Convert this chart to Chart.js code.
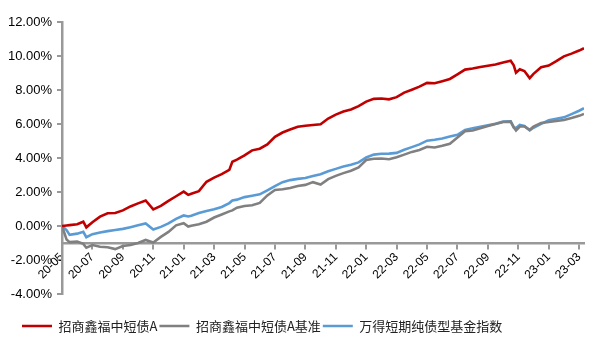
<!DOCTYPE html>
<html>
<head>
<meta charset="utf-8">
<script src="https://cdn.jsdelivr.net/npm/chart.js@4/dist/chart.umd.min.js"></script>
<style>
    html, body { margin: 0; padding: 0; background: #fff; }
    #wrap { width: 602px; height: 351px; }
</style>
</head>
<body>
<div id="wrap"><canvas id="navChart"></canvas></div>
<script>
// months since 2020-05 (x position of each observation)
const months = [
    0, 0.3, 0.5, 1.0, 1.4, 1.6, 2.0, 2.5, 3.0, 3.5,
    4.0, 4.5, 5.0, 5.5, 6.0, 6.5, 7.0, 7.5, 8.0, 8.3,
    8.5, 9.0, 9.5, 10.0, 10.5, 11.0, 11.2, 11.5, 12.0, 12.5,
    13.0, 13.5, 14.0, 14.5, 15.0, 15.5, 16.0, 16.5, 17.0, 17.5,
    18.0, 18.5, 19.0, 19.5, 20.0, 20.5, 21.0, 21.5, 22.0, 22.5,
    23.0, 23.5, 24.0, 24.5, 25.0, 25.5, 26.0, 26.5, 27.0, 27.5,
    28.0, 28.5, 29.0, 29.5, 29.7, 29.85, 30.1, 30.4, 30.75, 31.0,
    31.5, 32.0, 32.5, 33.0, 33.5, 34.0, 34.32
];

// cumulative return, %
const fundA = [
    0.00, 0.03, 0.05, 0.10, 0.25, -0.08, 0.22, 0.55, 0.75, 0.76,
    0.92, 1.15, 1.33, 1.50, 0.98, 1.18, 1.48, 1.75, 2.02, 1.83,
    1.90, 2.05, 2.60, 2.85, 3.05, 3.30, 3.78, 3.90, 4.15, 4.45,
    4.55, 4.80, 5.25, 5.50, 5.68, 5.84, 5.90, 5.94, 5.98, 6.32,
    6.55, 6.73, 6.85, 7.05, 7.32, 7.48, 7.50, 7.45, 7.58, 7.85,
    8.02, 8.20, 8.42, 8.40, 8.52, 8.65, 8.92, 9.20, 9.26, 9.35,
    9.43, 9.50, 9.62, 9.72, 9.45, 9.02, 9.22, 9.12, 8.70, 8.95,
    9.34, 9.44, 9.70, 9.98, 10.14, 10.32, 10.46
];

const benchmark = [
    0.00, -0.80, -0.95, -0.92, -1.05, -1.28, -1.12, -1.22, -1.25, -1.36,
    -1.18, -1.12, -1.00, -0.82, -0.97, -0.64, -0.35, 0.04, 0.16, -0.03,
    0.02, 0.10, 0.25, 0.50, 0.68, 0.86, 0.92, 1.08, 1.18, 1.22,
    1.36, 1.80, 2.12, 2.16, 2.24, 2.35, 2.42, 2.58, 2.44, 2.76,
    2.95, 3.11, 3.25, 3.45, 3.88, 3.96, 3.97, 3.93, 4.04, 4.20,
    4.36, 4.47, 4.66, 4.62, 4.72, 4.84, 5.20, 5.57, 5.62, 5.75,
    5.88, 6.00, 6.12, 6.14, 5.80, 5.62, 5.85, 5.86, 5.66, 5.85,
    6.06, 6.12, 6.18, 6.24, 6.35, 6.48, 6.59
];

const windIndex = [
    0.00, -0.24, -0.52, -0.45, -0.34, -0.66, -0.48, -0.38, -0.30, -0.24,
    -0.17, -0.07, 0.04, 0.15, -0.21, -0.05, 0.15, 0.42, 0.62, 0.56,
    0.60, 0.76, 0.88, 0.98, 1.12, 1.35, 1.50, 1.55, 1.70, 1.78,
    1.86, 2.10, 2.35, 2.58, 2.70, 2.77, 2.82, 2.94, 3.05, 3.22,
    3.36, 3.50, 3.60, 3.74, 4.03, 4.20, 4.25, 4.26, 4.30, 4.48,
    4.64, 4.80, 5.02, 5.07, 5.15, 5.26, 5.36, 5.65, 5.75, 5.83,
    5.92, 6.02, 6.14, 6.16, 5.80, 5.76, 5.94, 5.88, 5.62, 5.78,
    6.01, 6.22, 6.30, 6.39, 6.58, 6.78, 6.93
];

const seriesNames = ['招商鑫福中短债A', '招商鑫福中短债A基准', '万得短期纯债型基金指数'];
const seriesColors = ['#C00000', '#808080', '#5B9BD5'];

const startYear = 2020;
const startMonth = 5;

const toPoints = (values) => months.map((m, i) => ({ x: m, y: values[i] }));

const monthLabel = (value) => {
    const total = startYear * 12 + (startMonth - 1) + Math.round(value);
    const yy = String(Math.floor(total / 12) % 100).padStart(2, '0');
    const mm = String((total % 12) + 1).padStart(2, '0');
    return `${yy}-${mm}`;
};

const axisGray = '#999999';

// legend sits a little right of the canvas edge in the original
const legendShift = {
    id: 'legendShift',
    afterLayout(chart) {
        if (chart.legend) {
            chart.legend.left = 20;
        }
    }
};

new Chart(document.getElementById('navChart'), {
    type: 'line',
    plugins: [legendShift],
    data: {
        datasets: [fundA, benchmark, windIndex].map((values, i) => ({
            label: seriesNames[i],
            data: toPoints(values),
            borderColor: seriesColors[i],
            backgroundColor: seriesColors[i],
            borderWidth: 2.6,
            pointRadius: 0,
            tension: 0,
            fill: false
        }))
    },
    options: {
        responsive: true,
        maintainAspectRatio: false,
        animation: false,
        layout: {
            padding: { left: 0, right: 18, top: 22, bottom: 8.5 }
        },
        plugins: {
            tooltip: { enabled: false },
            legend: {
                position: 'bottom',
                align: 'start',
                labels: {
                    usePointStyle: true,
                    pointStyle: 'line',
                    pointStyleWidth: 30,
                    padding: 2,
                    color: '#222',
                    font: { family: '"Noto Sans CJK SC", sans-serif', size: 13 }
                }
            }
        },
        scales: {
            x: {
                type: 'linear',
                position: { y: -1 },
                min: 0,
                max: 34.32,
                grid: {
                    drawOnChartArea: false,
                    drawTicks: true,
                    tickLength: 5,
                    color: axisGray,
                    lineWidth: 2
                },
                border: { display: true, color: axisGray, width: 2.5 },
                ticks: {
                    stepSize: 2,
                    includeBounds: false,
                    autoSkip: false,
                    minRotation: 45,
                    maxRotation: 45,
                    padding: 2,
                    color: '#000',
                    font: { family: '"Liberation Sans", Arial, sans-serif', size: 12 },
                    callback: (value) => monthLabel(value)
                }
            },
            // empty bottom axis that only reserves room above the legend
            x2: {
                type: 'linear',
                position: 'bottom',
                display: true,
                grid: { display: false },
                border: { display: false },
                ticks: { display: false },
                afterFit: (scale) => { scale.height = 23.5; }
            },
            y: {
                min: -4,
                max: 12,
                grid: {
                    drawOnChartArea: false,
                    drawTicks: true,
                    tickLength: 5,
                    color: axisGray,
                    lineWidth: 2
                },
                border: { display: true, color: axisGray, width: 2.5 },
                ticks: {
                    stepSize: 2,
                    padding: 5,
                    color: '#000',
                    font: { family: '"Liberation Sans", Arial, sans-serif', size: 13 },
                    callback: (value) => `${value.toFixed(2)}%`
                },
                afterFit: (scale) => { scale.width = 62; }
            }
        }
    }
});
</script>
</body>
</html>
